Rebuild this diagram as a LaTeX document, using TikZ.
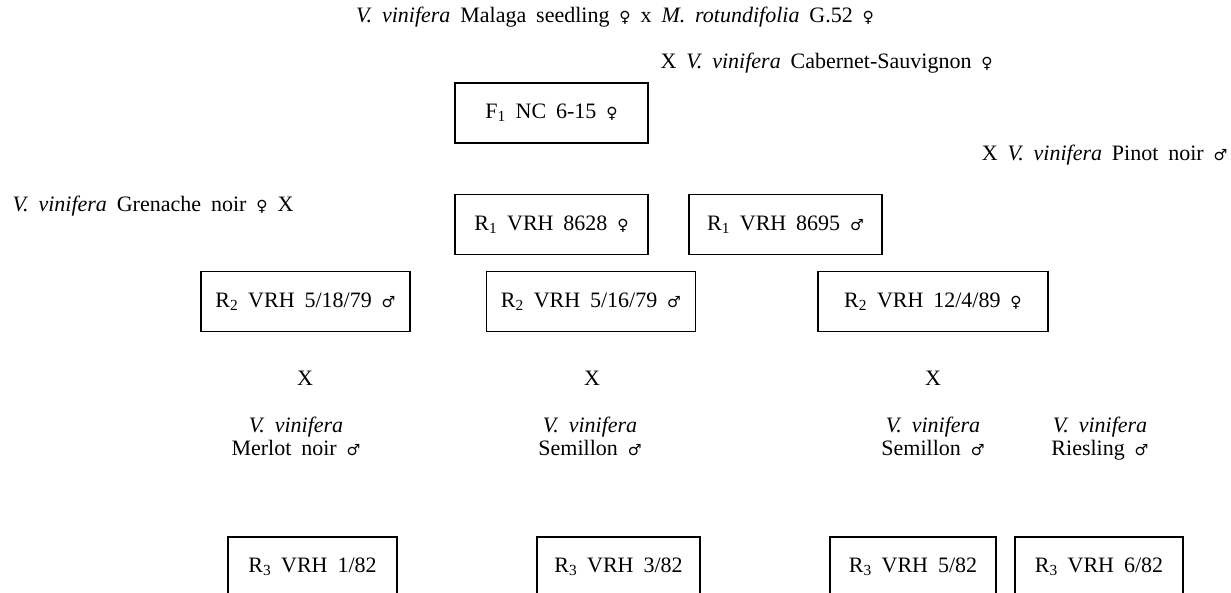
\documentclass[tikz,border=0pt]{standalone}
\usepackage{fontspec}
\setmainfont{Liberation Serif}[WordSpace=1.8]
\newfontfamily\sexfont{DejaVu Sans}[Scale=0.7]
\newcommand{\venus}{{\sexfont ♀}}
\newcommand{\mars}{{\sexfont ♂}}
\newcommand{\vv}{\textit{V. vinifera}}

\begin{document}
\begin{tikzpicture}[x=1pt, y=-1pt, font=\fontsize{22}{23}\selectfont,
    plantbox/.style={draw, line width=1.6pt, minimum height=60pt, inner sep=0pt},
    parent/.style={align=center, inner sep=0pt, anchor=north}]
    % Fix the page to the size of the reference
    \useasboundingbox (0,0) rectangle (1231,593);

    % Original cross and the F1 plant
    \node (seed) at (615,17) {\vv{} Malaga seedling \venus{} x \textit{M. rotundifolia} G.52 \venus};
    \node[plantbox, minimum width=193pt] (f1) at (551.5,113) {F\textsubscript{1} NC 6-15 \venus};
    \node[anchor=west] (cab) at (657,63) {X \vv{} Cabernet-Sauvignon \venus};

    % First backcross
    \node[anchor=west] (gren) at (9,206) {\vv{} Grenache noir \venus{} X};
    \node[anchor=east] (pinot) at (1231,155) {X \vv{} Pinot noir \mars};
    \node[plantbox, minimum width=193pt] (r1a) at (551.5,224.5) {R\textsubscript{1} VRH 8628 \venus};
    \node[plantbox, minimum width=193pt] (r1b) at (785.5,224.5) {R\textsubscript{1} VRH 8695 \mars};

    % Second backcross
    \node[plantbox, minimum width=209pt] (r2a) at (305.5,301.5) {R\textsubscript{2} VRH 5/18/79 \mars};
    \node[plantbox, minimum width=209pt] (r2b) at (591,301.5) {R\textsubscript{2} VRH 5/16/79 \mars};
    \node[plantbox, minimum width=230pt] (r2c) at (933,301.5) {R\textsubscript{2} VRH 12/4/89 \venus};

    % Crosses with the pollen parents
    \node (xa) at (305,378) {X};
    \node (xb) at (592,378) {X};
    \node (xc) at (933,378) {X};
    \node[parent] (merlot) at (296,417) {\vv\\ Merlot noir \mars};
    \node[parent] (sema) at (590,417) {\vv\\ Semillon \mars};
    \node[parent] (semb) at (933,417) {\vv\\ Semillon \mars};
    \node[parent] (ries) at (1100,417) {\vv\\ Riesling \mars};

    % Third backcross
    \node[plantbox, minimum width=169pt] (r3a) at (312.5,567) {R\textsubscript{3} VRH 1/82};
    \node[plantbox, minimum width=163pt] (r3b) at (618.5,567) {R\textsubscript{3} VRH 3/82};
    \node[plantbox, minimum width=166pt] (r3c) at (913,567) {R\textsubscript{3} VRH 5/82};
    \node[plantbox, minimum width=168pt] (r3d) at (1099,567) {R\textsubscript{3} VRH 6/82};
\end{tikzpicture}
\end{document}
